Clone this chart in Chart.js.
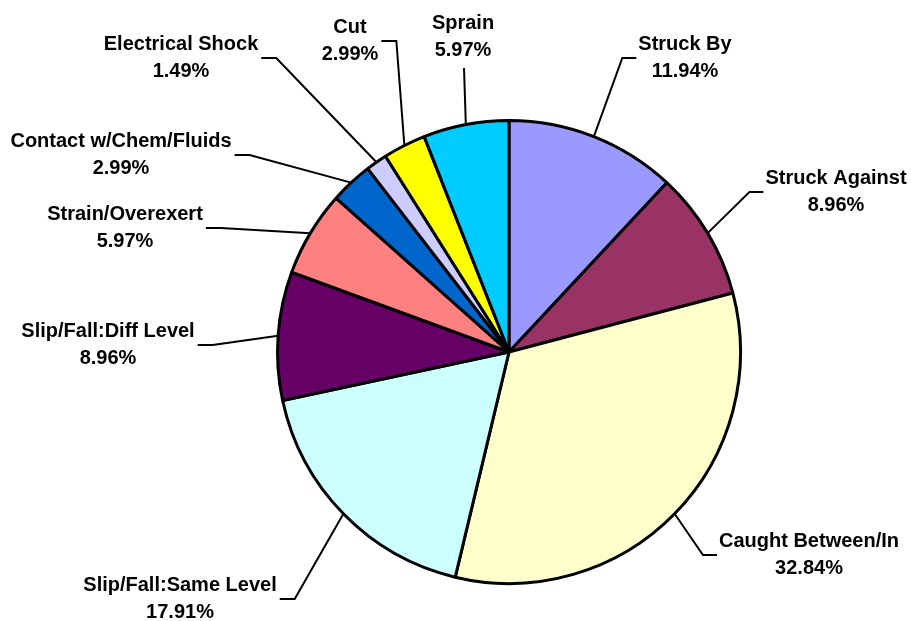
<!DOCTYPE html>
<html>
<head>
<meta charset="utf-8">
<script src="https://cdn.jsdelivr.net/npm/chart.js@4.4.1/dist/chart.umd.min.js"></script>
<style>
  html, body { margin: 0; padding: 0; background: #ffffff; }
  #wrap { width: 911px; height: 621px; position: relative; }
</style>
</head>
<body>
<div id="wrap"><canvas id="c" width="911" height="621"></canvas></div>
<script>
// ---- data ----
const categories = [
  'Struck By', 'Struck Against', 'Caught Between/In', 'Slip/Fall:Same Level',
  'Slip/Fall:Diff Level', 'Strain/Overexert', 'Contact w/Chem/Fluids',
  'Electrical Shock', 'Cut', 'Sprain'
];
const counts = [8, 6, 22, 12, 6, 4, 2, 1, 2, 4];
const colors = [
  '#9999FF', '#993366', '#FFFFCC', '#CCFFFF', '#660066',
  '#FF8080', '#0066CC', '#CCCCFF', '#FFFF00', '#00CCFF'
];

// label placement (layout only): text block centre and side the leader attaches to
const labelLayout = [
  { x: 685, y: 58, side: 'left' },
  { x: 836, y: 192, side: 'left' },
  { x: 809, y: 555, side: 'left' },
  { x: 180, y: 599, side: 'right' },
  { x: 108, y: 345, side: 'right' },
  { x: 125, y: 228, side: 'right' },
  { x: 121, y: 155, side: 'right' },
  { x: 181, y: 58, side: 'right' },
  { x: 350, y: 41, side: 'right' },
  { x: 463, y: 37, side: 'bottom' }
];

const total = counts.reduce((a, b) => a + b, 0);

const outsideLabels = {
  id: 'outsideLabels',
  afterDatasetsDraw(chart) {
    const ctx = chart.ctx;
    const meta = chart.getDatasetMeta(0);
    ctx.save();
    ctx.font = 'bold 20px "Liberation Sans", Arial, sans-serif';
    ctx.fillStyle = '#000';
    ctx.strokeStyle = '#000';
    ctx.lineWidth = 2;
    ctx.textAlign = 'center';
    ctx.textBaseline = 'middle';
    meta.data.forEach((arc, i) => {
      const p = arc.getProps(['x', 'y', 'startAngle', 'endAngle', 'outerRadius'], true);
      const mid = (p.startAngle + p.endAngle) / 2;
      const ex = p.x + Math.cos(mid) * p.outerRadius;
      const ey = p.y + Math.sin(mid) * p.outerRadius;
      const L = labelLayout[i];
      const pct = (counts[i] / total * 100).toFixed(2) + '%';
      const line1 = categories[i];
      const w = Math.max(ctx.measureText(line1).width, ctx.measureText(pct).width);
      ctx.beginPath();
      ctx.moveTo(ex, ey);
      if (L.side === 'left') {
        const tl = L.x - w / 2;
        ctx.lineTo(tl - 16, L.y);
        ctx.lineTo(tl - 2, L.y);
      } else if (L.side === 'right') {
        const tr = L.x + w / 2;
        ctx.lineTo(tr + 18, L.y);
        ctx.lineTo(tr + 3, L.y);
      } else {
        ctx.lineTo(L.x + 1, L.y + 31);
      }
      ctx.stroke();
      ctx.fillText(line1, L.x, L.y - 13.5);
      ctx.fillText(pct, L.x, L.y + 13.5);
    });
    ctx.restore();
  }
};

new Chart(document.getElementById('c'), {
  type: 'pie',
  data: {
    labels: categories,
    datasets: [{
      data: counts,
      backgroundColor: colors,
      borderColor: '#000000',
      borderWidth: 3
    }]
  },
  options: {
    responsive: false,
    animation: false,
    layout: { padding: { top: 119, bottom: 36, left: 276, right: 169 } },
    plugins: {
      legend: { display: false },
      tooltip: { enabled: false }
    }
  },
  plugins: [outsideLabels]
});
</script>
</body>
</html>
